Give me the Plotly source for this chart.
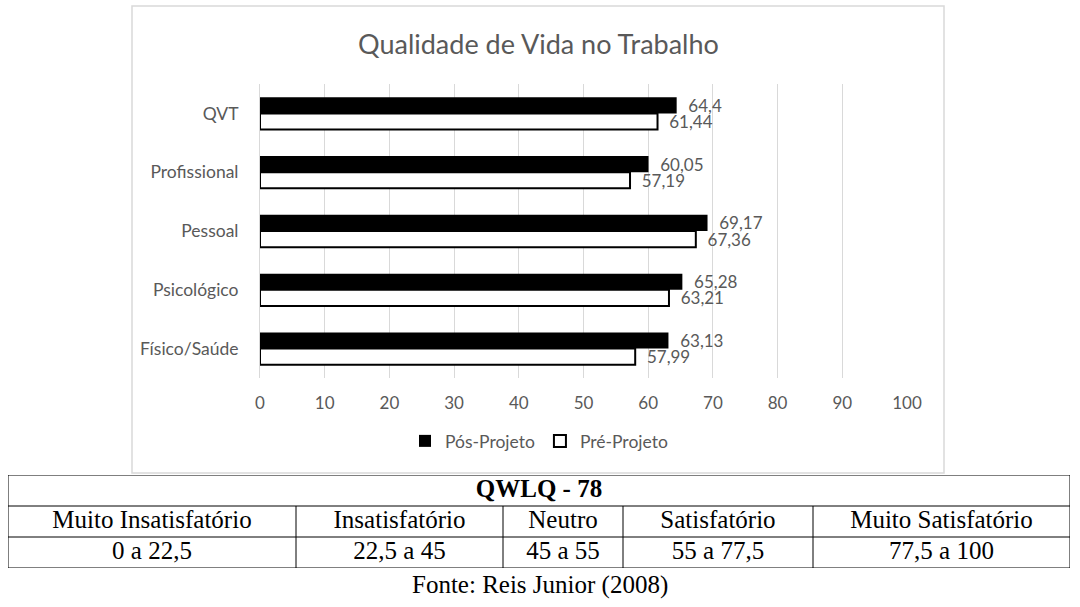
import plotly.graph_objects as go

W, H = 1080, 607

# ---- data ----
categories = ["QVT", "Profissional", "Pessoal", "Psicológico", "Físico/Saúde"]
pos_projeto = [64.4, 60.05, 69.17, 65.28, 63.13]
pre_projeto = [61.44, 57.19, 67.36, 63.21, 57.99]
x_ticks = [0, 10, 20, 30, 40, 50, 60, 70, 80, 90, 100]

table_title = "QWLQ - 78"
table_classes = ["Muito Insatisfatório", "Insatisfatório", "Neutro", "Satisfatório", "Muito Satisfatório"]
table_ranges = ["0 a 22,5", "22,5 a 45", "45 a 55", "55 a 77,5", "77,5 a 100"]
source_text = "Fonte: Reis Junior (2008)"

# table layout (relative column widths)
col_widths = [288, 207, 120, 190, 257]


def px(x):
    return x / W


def py(y):
    return 1 - y / H


def fmt(v):
    return "\u00a0\u00a0" + f"{v:g}".replace(".", ",")


GRAY = "#595959"
SANS = "Lato, Open Sans, sans-serif"
SERIF = "Liberation Serif, Times New Roman, serif"
TFS = 25

fig = go.Figure()

fig.add_trace(go.Bar(
    name="Pós-Projeto", y=categories, x=pos_projeto, orientation="h",
    marker=dict(color="black", line=dict(color="black", width=0)),
    text=[fmt(v) for v in pos_projeto], textposition="outside", constraintext="none",
    textfont=dict(family=SANS, size=17, color=GRAY), cliponaxis=False,
))
fig.add_trace(go.Bar(
    name="Pré-Projeto", y=categories, x=pre_projeto, orientation="h",
    marker=dict(color="white", line=dict(color="black", width=2)),
    text=[fmt(v) for v in pre_projeto], textposition="outside", constraintext="none",
    textfont=dict(family=SANS, size=17, color=GRAY), cliponaxis=False,
))

# ---- table on its own axes (x: cumulative column width, y: row index) ----
bounds = [0]
for w in col_widths:
    bounds.append(bounds[-1] + w)
total = bounds[-1]
centers = [(bounds[i] + bounds[i + 1]) / 2 for i in range(len(col_widths))]

fig.add_trace(go.Scatter(
    x=[total / 2], y=[0.5], mode="text", text=[f"<b>{table_title}</b>"],
    textposition="middle center", textfont=dict(family=SERIF, size=TFS, color="black"),
    xaxis="x2", yaxis="y2", showlegend=False, hoverinfo="skip", cliponaxis=False,
))
fig.add_trace(go.Scatter(
    x=centers, y=[1.5] * len(centers), mode="text", text=table_classes,
    textposition="middle center", textfont=dict(family=SERIF, size=TFS, color="black"),
    xaxis="x2", yaxis="y2", showlegend=False, hoverinfo="skip", cliponaxis=False,
))
fig.add_trace(go.Scatter(
    x=centers, y=[2.5] * len(centers), mode="text", text=table_ranges,
    textposition="middle center", textfont=dict(family=SERIF, size=TFS, color="black"),
    xaxis="x2", yaxis="y2", showlegend=False, hoverinfo="skip", cliponaxis=False,
))

table_line = dict(color="black", width=1)
shapes = [
    dict(type="rect", xref="paper", yref="paper",
         x0=px(132), x1=px(944), y0=py(473), y1=py(6),
         line=dict(color="#d9d9d9", width=1.5), fillcolor="rgba(0,0,0,0)", layer="below"),
    dict(type="rect", xref="x2", yref="y2", x0=0, x1=total, y0=0, y1=3, line=table_line),
    dict(type="line", xref="x2", yref="y2", x0=0, x1=total, y0=1, y1=1, line=table_line),
    dict(type="line", xref="x2", yref="y2", x0=0, x1=total, y0=2, y1=2, line=table_line),
]
for b in bounds[1:-1]:
    shapes.append(dict(type="line", xref="x2", yref="y2", x0=b, x1=b, y0=1, y1=3, line=table_line))

fig.update_layout(
    width=W, height=H,
    margin=dict(l=0, r=0, t=0, b=0, autoexpand=False),
    paper_bgcolor="white", plot_bgcolor="white",
    barmode="group", bargap=0.45, bargroupgap=0,
    showlegend=True,
    legend=dict(orientation="h", x=px(539), xanchor="center", y=py(441), yanchor="middle",
                font=dict(family=SANS, size=17.5, color=GRAY), traceorder="normal",
                itemwidth=30),
    xaxis=dict(domain=[px(260), px(907)], range=[0, 100], tickvals=x_ticks,
               showgrid=True, gridcolor="#d9d9d9", gridwidth=1, zeroline=False,
               showline=False, ticks="", ticklabelstandoff=13,
               tickfont=dict(family=SANS, size=17, color=GRAY), fixedrange=True),
    yaxis=dict(domain=[py(378), py(84)], autorange="reversed", type="category",
               showgrid=False, zeroline=False, showline=True, linecolor="#d9d9d9",
               linewidth=1, ticks="", ticklabelstandoff=17,
               tickfont=dict(family=SANS, size=17.5, color=GRAY), fixedrange=True),
    xaxis2=dict(domain=[px(8), px(1070)], range=[0, total], visible=False,
                anchor="y2", fixedrange=True),
    yaxis2=dict(domain=[py(568), py(475)], range=[3, 0], visible=False,
                anchor="x2", fixedrange=True),
    shapes=shapes,
    annotations=[
        dict(text="Qualidade de Vida no Trabalho", xref="paper", yref="paper",
             x=px(538), y=py(43), xanchor="center", yanchor="middle", showarrow=False,
             font=dict(family=SANS, size=27, color=GRAY)),
        dict(text=source_text, xref="paper", yref="paper",
             x=px(540), y=py(585), xanchor="center", yanchor="middle", showarrow=False,
             font=dict(family=SERIF, size=TFS, color="black")),
    ],
)

fig.write_html("out.html")
